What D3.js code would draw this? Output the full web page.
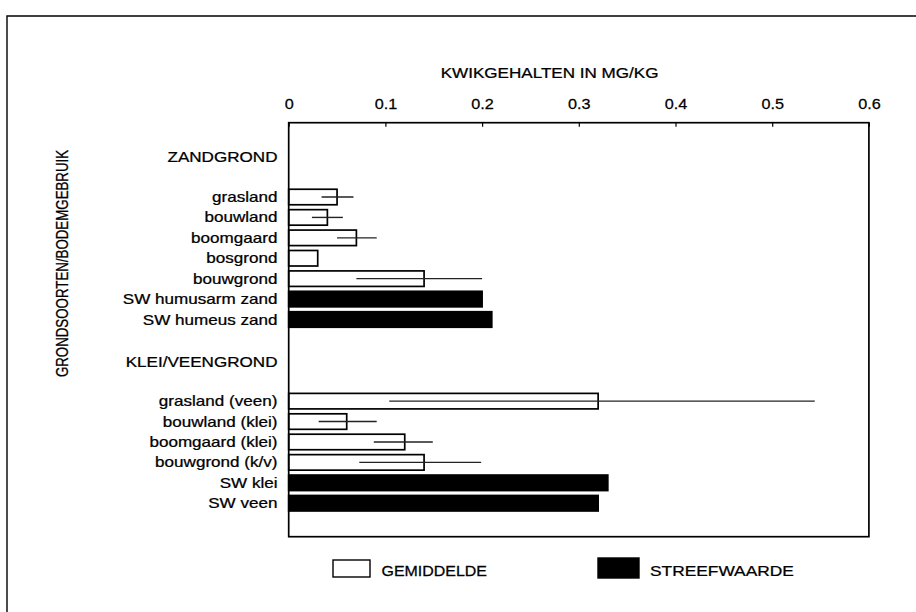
<!DOCTYPE html>
<html>
<head>
<meta charset="utf-8">
<script src="https://cdn.jsdelivr.net/npm/d3@7"></script>
<style>
  body { margin: 0; background: #fff; }
  text { font-family: "Liberation Sans", Arial, Helvetica, sans-serif; fill: #000; stroke: #000; stroke-width: 0.25px; }
</style>
</head>
<body>
<svg id="chart" width="916" height="612"></svg>
<script>
// Mercury content per soil type / land use (mg/kg)
const sectionHeaders = ["ZANDGROND", "KLEI/VEENGROND"];
const categories = [
  "grasland", "bouwland", "boomgaard", "bosgrond", "bouwgrond",
  "SW humusarm zand", "SW humeus zand",
  "grasland (veen)", "bouwland (klei)", "boomgaard (klei)", "bouwgrond (k/v)",
  "SW klei", "SW veen"
];
const categorySection = [0, 0, 0, 0, 0, 0, 0, 1, 1, 1, 1, 1, 1];
const seriesNames = ["GEMIDDELDE", "STREEFWAARDE"];
const categorySeries = [0, 0, 0, 0, 0, 1, 1, 0, 0, 0, 0, 1, 1];
const values    = [0.05, 0.04, 0.07, 0.03, 0.14, 0.20, 0.21, 0.32, 0.06, 0.12, 0.14, 0.33, 0.32];
const rangeLow  = [0.034, 0.024, 0.05, null, 0.07, null, null, 0.104, 0.031, 0.088, 0.073, null, null];
const rangeHigh = [0.067, 0.056, 0.091, null, 0.20, null, null, 0.544, 0.091, 0.149, 0.199, null, null];
const tickValues = [0, 0.1, 0.2, 0.3, 0.4, 0.5, 0.6];
const tickLabels = ["0", "0.1", "0.2", "0.3", "0.4", "0.5", "0.6"];
const xTitle = "KWIKGEHALTEN IN MG/KG";
const yTitle = "GRONDSOORTEN/BODEMGEBRUIK";

// Row order: each section header, a spacer row, then its categories, spacer between sections
const rowKeys = [];
sectionHeaders.forEach((h, s) => {
  if (s > 0) rowKeys.push("spacer-end-" + s);
  rowKeys.push(h);
  rowKeys.push("spacer-" + s);
  categories.forEach((c, i) => { if (categorySection[i] === s) rowKeys.push(c); });
});

const plot = { left: 288.7, right: 868.9, top: 122.7, bottom: 536.7 };
const SX = 1.22; // horizontal stretch of the lettering

const svg = d3.select("#chart");

// outer frame (top and left edges)
svg.append("path")
  .attr("d", "M7,612 L7,16 L916,16")
  .attr("fill", "none").attr("stroke", "#000").attr("stroke-width", 1.4);

const x = d3.scaleLinear().domain([0, 0.6]).range([plot.left, plot.right]);
const y = d3.scaleBand().domain(rowKeys).range([plot.top, plot.bottom])
  .paddingInner(0.24).paddingOuter(1.26);

function label(g, tx, ty, str, opts = {}) {
  const t = g.append("g").attr("transform", `translate(${tx},${ty})`)
    .append("text")
    .attr("transform", `scale(${opts.sx || SX},1)${opts.rotate ? " rotate(" + opts.rotate + ")" : ""}`)
    .attr("text-anchor", opts.anchor || "start")
    .attr("font-size", opts.size || 14)
    .text(str);
  if (opts.dy) t.attr("dy", opts.dy);
  return t;
}

// bars
const bars = categories.map((c, i) => ({ c, i, v: values[i], s: categorySeries[i] }));
svg.append("g").selectAll("rect").data(bars).join("rect")
  .attr("x", x(0))
  .attr("y", d => y(d.c))
  .attr("width", d => x(d.v) - x(0))
  .attr("height", y.bandwidth())
  .attr("fill", d => d.s === 0 ? "#fff" : "#000")
  .attr("stroke", "#000")
  .attr("stroke-width", 1.7);

// spread lines
const ranges = bars.filter(d => rangeLow[d.i] != null);
svg.append("g").selectAll("line").data(ranges).join("line")
  .attr("x1", d => x(rangeLow[d.i]))
  .attr("x2", d => x(rangeHigh[d.i]))
  .attr("y1", d => y(d.c) + y.bandwidth() / 2)
  .attr("y2", d => y(d.c) + y.bandwidth() / 2)
  .attr("stroke", "#222")
  .attr("stroke-width", 1.4);

// plot frame
svg.append("rect")
  .attr("x", plot.left).attr("y", plot.top)
  .attr("width", plot.right - plot.left).attr("height", plot.bottom - plot.top)
  .attr("fill", "none").attr("stroke", "#000").attr("stroke-width", 1.7);

// top axis with inward ticks
const axis = svg.append("g")
  .attr("transform", `translate(0,${plot.top})`)
  .call(d3.axisTop(x).tickValues(tickValues)
    .tickFormat((d, i) => tickLabels[i]).tickSize(-4).tickPadding(13.5));
axis.select(".domain").remove();
axis.selectAll(".tick line").attr("stroke", "#000").attr("stroke-width", 1.2);
axis.selectAll(".tick text")
  .attr("font-size", 15)
  .attr("font-family", '"Liberation Sans", Arial, sans-serif')
  .attr("transform", "scale(1.08,1)");

// axis title
label(svg, 549.6, 78, xTitle, { anchor: "middle" });

// row labels
const labelsG = svg.append("g");
categories.forEach(c => {
  label(labelsG, 277.5, y(c) + y.bandwidth() / 2, c, { anchor: "end", dy: "0.36em" });
});
sectionHeaders.forEach(h => {
  label(labelsG, 277.5, y(h) + y.bandwidth() / 2, h, { anchor: "end", dy: "0.45em" });
});

// vertical title
label(svg, 67.5, 263.5, yTitle, { anchor: "middle", rotate: -90, size: 13.3 });

// legend
const legend = svg.append("g");
const legendBoxes = [
  { x: 333, y: 560, w: 37, h: 17, tx: 381.5 },
  { x: 598, y: 558, w: 41, h: 20, tx: 650 }
];
seriesNames.forEach((name, s) => {
  const b = legendBoxes[s];
  legend.append("rect")
    .attr("x", b.x).attr("y", b.y).attr("width", b.w).attr("height", b.h)
    .attr("fill", s === 0 ? "#fff" : "#000")
    .attr("stroke", "#000").attr("stroke-width", 1.4);
  label(legend, b.tx, 575.5, name, { size: 14, sx: s === 0 ? 1.14 : 1.24 });
});
</script>
</body>
</html>
